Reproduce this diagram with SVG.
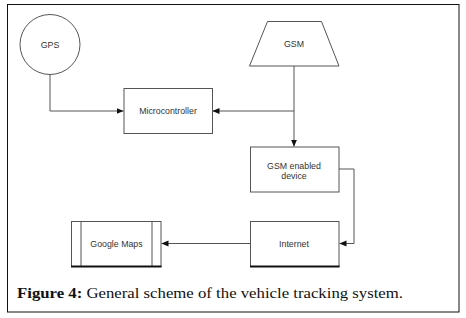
<svg xmlns="http://www.w3.org/2000/svg" width="466" height="318" viewBox="0 0 466 318">
<style>
.n{fill:#fff;stroke:#555;stroke-width:1}
.t{font-family:"Liberation Sans",Arial,sans-serif;font-size:8.8px;fill:#333;text-anchor:middle}
.c{fill:none;stroke:#555;stroke-width:1}
.cap{font-family:"Liberation Serif","Times New Roman",serif;font-size:14.5px;fill:#111}
</style>
<defs>
<marker id="a" viewBox="0 0 8 8" refX="8" refY="4" markerWidth="7" markerHeight="7" markerUnits="userSpaceOnUse" orient="auto">
<path d="M0,0.5 L8,4 L0,7.5 Z" fill="#111"/>
</marker>
</defs>
<rect x="7.5" y="4.5" width="451.5" height="307.5" fill="#fff" stroke="#111" stroke-width="1"/>
<g id="connectors">
<path class="c" d="M50,74.5 V111 H123.5" marker-end="url(#a)"/>
<path class="c" d="M294,66 V111 H212.5" marker-end="url(#a)"/>
<path class="c" d="M294,111 V146.5" marker-end="url(#a)"/>
<path class="c" d="M339,169 H354 V243.5 H339.5" marker-end="url(#a)"/>
<path class="c" d="M250.5,243.5 H161.5" marker-end="url(#a)"/>
</g>
<g id="gps">
<circle class="n" cx="50" cy="44.5" r="30"/>
<text class="t" x="50" y="47.5">GPS</text>
</g>
<g id="microcontroller">
<rect class="n" x="124" y="88.5" width="88.5" height="45"/>
<text class="t" x="168" y="114">Microcontroller</text>
</g>
<g id="gsm">
<path class="n" d="M267.5,21.5 H321.5 L339,66 H249.5 Z"/>
<text class="t" x="294" y="47">GSM</text>
</g>
<g id="gsm-device">
<rect class="n" x="250.5" y="147" width="88.5" height="45"/>
<text class="t" x="294" y="168.5">GSM enabled</text>
<text class="t" x="294" y="178.5">device</text>
</g>
<g id="internet">
<rect class="n" x="250.5" y="221.5" width="88.5" height="45"/>
<line x1="250" y1="266.5" x2="339.5" y2="266.5" stroke="#111" stroke-width="2"/>
<text class="t" x="294" y="246.5">Internet</text>
</g>
<g id="google-maps">
<rect class="n" x="71.5" y="221.5" width="89.5" height="45"/>
<line x1="81" y1="221.5" x2="81" y2="266.5" stroke="#555"/>
<line x1="152" y1="221.5" x2="152" y2="266.5" stroke="#555"/>
<line x1="71" y1="266.5" x2="161.5" y2="266.5" stroke="#111" stroke-width="2"/>
<text class="t" x="116.5" y="246.5">Google Maps</text>
</g>
<text class="cap" x="17" y="298" textLength="386" lengthAdjust="spacingAndGlyphs"><tspan font-weight="bold">Figure 4:</tspan> General scheme of the vehicle tracking system.</text>
</svg>
